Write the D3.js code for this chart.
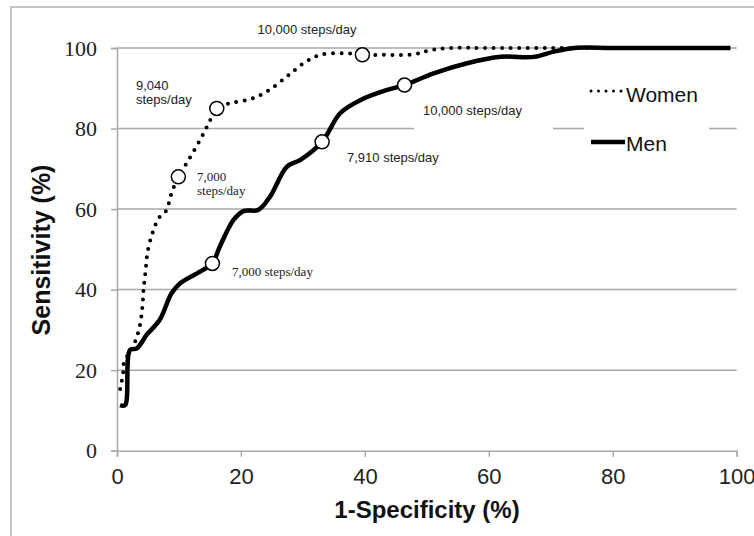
<!DOCTYPE html>
<html>
<head>
<meta charset="utf-8">
<script src="https://cdn.jsdelivr.net/npm/d3@7"></script>
<style>
  body { margin: 0; background: #fff; }
  svg { display: block; }
</style>
</head>
<body>
<div id="chart"></div>
<script>
// ROC curves, step counts vs sensitivity
const womenX = [0.5, 1.0, 1.1, 2.9, 3.7, 4.1, 4.3, 4.6, 4.9, 5.5, 6.0, 6.7, 7.9, 8.8, 9.9, 11.4, 13.4, 14.8, 16.1, 18.3, 21.5, 24.2, 27.4, 30.1, 32.8, 36.6, 39.6, 43.0, 47.9, 50.6, 53.8, 60, 70, 80, 90, 99];
const womenY = [15.3, 19.4, 21.7, 27.0, 31.2, 35.8, 40.3, 44.5, 49.0, 53.0, 55.2, 57.7, 59.5, 63.9, 68.0, 71.8, 77.2, 81.3, 85.0, 86.3, 87.3, 89.2, 92.9, 96.2, 98.3, 98.7, 98.3, 98.3, 98.4, 99.5, 100, 100, 100, 100, 100, 100];

const menX = [0.5, 1.3, 2.1, 3.2, 4.8, 6.9, 8.8, 10.2, 13.9, 15.4, 16.6, 18.8, 20.4, 22.8, 24.7, 27.4, 29.6, 33.1, 36.0, 39.3, 43.6, 46.4, 51.1, 56.5, 61.9, 67.3, 70.5, 73.8, 80, 90, 99];
const menY = [11.3, 11.3, 25.0, 25.4, 28.8, 32.5, 39.1, 41.6, 44.9, 46.5, 50.7, 57.3, 59.5, 59.8, 63.1, 70.5, 72.2, 76.7, 83.8, 87.1, 89.6, 90.8, 93.7, 96.2, 97.8, 97.8, 99.1, 100, 100, 100, 100];

// cut-point markers
const womenMarkX = [9.9, 16.1, 39.6];
const womenMarkY = [68.0, 85.0, 98.3];
const menMarkX = [15.4, 33.1, 46.4];
const menMarkY = [46.5, 76.7, 90.8];

const xTicks = [0, 20, 40, 60, 80, 100];
const yTicks = [0, 20, 40, 60, 80, 100];

const width = 754;
const height = 536;
const sans = "'Liberation Sans', Arial, sans-serif";
const serif = "'Liberation Serif', 'Times New Roman', serif";

const svg = d3.select("#chart").append("svg")
  .attr("width", width)
  .attr("height", height);

const x = d3.scaleLinear().domain([0, 100]).range([117, 736.7]);
const y = d3.scaleLinear().domain([0, 100]).range([450.7, 48]);

// outer frame
svg.append("rect")
  .attr("x", 11).attr("y", 7)
  .attr("width", width).attr("height", height)
  .attr("fill", "none")
  .attr("stroke", "#b0b0b0")
  .attr("stroke-width", 1.5);

// gridlines
svg.append("g")
  .selectAll("line")
  .data(yTicks.filter(d => d > 0))
  .join("line")
  .attr("x1", x(0)).attr("x2", x(100))
  .attr("y1", d => y(d)).attr("y2", d => y(d))
  .attr("stroke", "#a8a8a8")
  .attr("stroke-width", 1.5);

// axes
const yAxis = svg.append("g")
  .attr("transform", `translate(${x(0)},0)`)
  .call(d3.axisLeft(y).tickValues(yTicks).tickSize(6).tickPadding(14));
yAxis.select(".domain").attr("stroke", "#a8a8a8").attr("stroke-width", 1.5);
yAxis.selectAll(".tick line").attr("stroke", "#a8a8a8").attr("stroke-width", 1.5);
yAxis.selectAll(".tick text")
  .style("font-family", serif)
  .style("font-size", "22px")
  .attr("fill", "#222");

const xAxis = svg.append("g")
  .attr("transform", `translate(0,${y(0)})`)
  .call(d3.axisBottom(x).tickValues(xTicks).tickSize(6).tickPadding(12));
xAxis.select(".domain").attr("stroke", "#a8a8a8").attr("stroke-width", 1.5);
xAxis.selectAll(".tick line").attr("stroke", "#a8a8a8").attr("stroke-width", 1.5);
xAxis.selectAll(".tick text")
  .style("font-family", sans)
  .style("font-size", "22px")
  .attr("fill", "#222");

// axis titles
svg.append("text")
  .attr("transform", "translate(50,250) rotate(-90)")
  .attr("text-anchor", "middle")
  .style("font-family", sans)
  .style("font-size", "25px")
  .attr("font-weight", "bold")
  .attr("fill", "#111")
  .text("Sensitivity (%)");

svg.append("text")
  .attr("x", 427).attr("y", 518)
  .attr("text-anchor", "middle")
  .style("font-family", sans)
  .style("font-size", "24px")
  .attr("font-weight", "bold")
  .attr("fill", "#111")
  .text("1-Specificity (%)");

// white boxes behind the men 10,000 label and the legend
svg.append("rect")
  .attr("x", 414).attr("y", 100).attr("width", 139).attr("height", 31)
  .attr("fill", "#fff");
svg.append("rect")
  .attr("x", 584).attr("y", 75).attr("width", 125).attr("height", 85)
  .attr("fill", "#fff");

// curves
const line = d3.line()
  .x(d => x(d[0]))
  .y(d => y(d[1]))
  .curve(d3.curveCatmullRom.alpha(0.5));

svg.append("path")
  .datum(d3.zip(menX, menY))
  .attr("d", line)
  .attr("fill", "none")
  .attr("stroke", "#000")
  .attr("stroke-width", 4.5)
  .attr("stroke-linejoin", "round");

svg.append("path")
  .datum(d3.zip(womenX, womenY))
  .attr("d", line)
  .attr("fill", "none")
  .attr("stroke", "#000")
  .attr("stroke-width", 4)
  .attr("stroke-linecap", "round")
  .attr("stroke-dasharray", "0 8.5");

// markers
const marks = d3.zip(womenMarkX, womenMarkY).concat(d3.zip(menMarkX, menMarkY));
svg.append("g")
  .selectAll("circle")
  .data(marks)
  .join("circle")
  .attr("cx", d => x(d[0]))
  .attr("cy", d => y(d[1]))
  .attr("r", 7)
  .attr("fill", "#fff")
  .attr("stroke", "#000")
  .attr("stroke-width", 1.5);

// annotations
const notes = [
  { x: 307, y: 34, text: "10,000 steps/day", font: sans, anchor: "middle" },
  { x: 136, y: 90, text: "9,040", font: sans, anchor: "start" },
  { x: 136, y: 104, text: "steps/day", font: sans, anchor: "start" },
  { x: 197, y: 181, text: "7,000", font: serif, anchor: "start" },
  { x: 197, y: 195, text: "steps/day", font: serif, anchor: "start" },
  { x: 347, y: 162, text: "7,910 steps/day", font: sans, anchor: "start" },
  { x: 423, y: 115, text: "10,000 steps/day", font: sans, anchor: "start" },
  { x: 232, y: 276, text: "7,000 steps/day", font: serif, anchor: "start" }
];
svg.append("g")
  .selectAll("text")
  .data(notes)
  .join("text")
  .attr("x", d => d.x)
  .attr("y", d => d.y)
  .attr("text-anchor", d => d.anchor)
  .style("font-family", d => d.font)
  .style("font-size", "13px")
  .attr("fill", "#222")
  .text(d => d.text);

// legend
const legend = svg.append("g");
legend.append("line")
  .attr("x1", 591).attr("x2", 622)
  .attr("y1", 91).attr("y2", 91)
  .attr("stroke", "#000")
  .attr("stroke-width", 3)
  .attr("stroke-linecap", "round")
  .attr("stroke-dasharray", "0 7.5");
legend.append("text")
  .attr("x", 626).attr("y", 102)
  .style("font-family", sans)
  .style("font-size", "21px")
  .attr("fill", "#111")
  .text("Women");
legend.append("line")
  .attr("x1", 591).attr("x2", 625)
  .attr("y1", 142).attr("y2", 142)
  .attr("stroke", "#000")
  .attr("stroke-width", 4.5);
legend.append("text")
  .attr("x", 626).attr("y", 151)
  .style("font-family", sans)
  .style("font-size", "21px")
  .attr("fill", "#111")
  .text("Men");
</script>
</body>
</html>
